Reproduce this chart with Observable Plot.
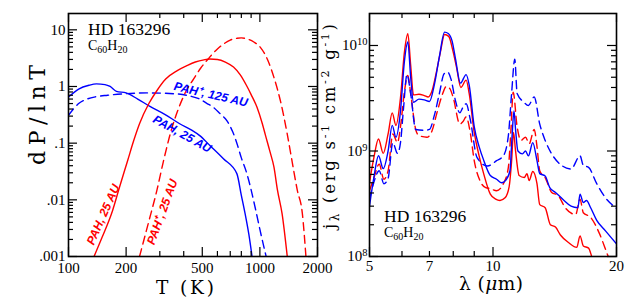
<!DOCTYPE html>
<html>
<head>
<meta charset="utf-8">
<script src="https://cdn.jsdelivr.net/npm/d3@7"></script>
<script src="https://cdn.jsdelivr.net/npm/@observablehq/plot@0.6"></script>
<style>
html,body{margin:0;padding:0;background:#fff;}
#chart{position:relative;width:625px;height:307px;overflow:hidden;background:#fff;}
#chart svg{position:absolute;left:0;top:0;}
</style>
</head>
<body>
<div id="chart"></div>
<script>
// ---------------- Left panel: temperature distributions dP/dlnT ----------------
// blue solid  (PAH, 25 AU)
const T_blueSolid = [100, 113, 128, 140, 155, 165, 178, 200, 230, 265, 320, 381, 440, 485, 548, 645, 758, 800, 837, 875, 910];
const P_blueSolid = [0.65, 0.9, 1.05, 1.11, 1.08, 1.0, 0.82, 0.77, 0.6, 0.45, 0.32, 0.22, 0.17, 0.136, 0.091, 0.053, 0.029, 0.012, 0.0057, 0.0025, 0.001];
// blue dashed (PAH+, 125 AU)
const T_blueDash = [100, 113, 125, 139, 160, 192, 265, 366, 430, 485, 530, 571, 620, 672, 720, 758, 800, 855, 900, 944, 1000, 1078];
const P_blueDash = [0.31, 0.5, 0.6, 0.66, 0.7, 0.74, 0.77, 0.74, 0.68, 0.6, 0.5, 0.43, 0.33, 0.25, 0.16, 0.1, 0.055, 0.029, 0.015, 0.0074, 0.003, 0.001];
// red solid (PAH, 25 AU)
const T_redSolid = [136, 150, 170, 185, 204, 219, 235, 263, 290, 322, 370, 413, 460, 510, 548, 600, 660, 728, 790, 850, 900, 966, 1030, 1068, 1130, 1184, 1235, 1306, 1390];
const P_redSolid = [0.001, 0.0022, 0.0065, 0.017, 0.05, 0.11, 0.22, 0.5, 0.85, 1.35, 1.9, 2.3, 2.7, 2.95, 3.05, 3.0, 2.7, 2.2, 1.6, 1.05, 0.72, 0.43, 0.22, 0.14, 0.07, 0.038, 0.015, 0.0057, 0.001];
// red dashed (PAH+, 25 AU)
const T_redDash = [235, 262, 290, 312, 344, 380, 413, 450, 490, 537, 600, 650, 700, 760, 800, 860, 930, 1006, 1100, 1184, 1290, 1387, 1450, 1509, 1567, 1667, 1740];
const P_redDash = [0.001, 0.004, 0.015, 0.045, 0.167, 0.45, 0.85, 1.35, 2.1, 3.06, 4.6, 5.7, 6.6, 7.1, 7.2, 6.9, 6.1, 4.9, 2.9, 1.45, 0.5, 0.15, 0.065, 0.03, 0.015, 0.0057, 0.001];

const leftXTicks = [100, 200, 500, 1000, 2000];
const leftXMinor = [300, 400, 600, 700, 800, 900];
const leftYTicks = [0.001, 0.01, 0.1, 1, 10];
const leftYTickLabels = [".001", ".01", ".1", "1", "10"];

const curveLabels = ["PAH\u207A, 125 AU", "PAH, 25 AU", "PAH, 25 AU", "PAH\u207A, 25 AU"];
const curveLabelT = [554, 393, 152, 309];
const curveLabelP = [0.72, 0.145, 0.0055, 0.0061];
const curveLabelAngle = [13, 29, -66, -70];
const curveLabelColor = ["blue", "blue", "red", "red"];

// ---------------- Right panel: emission spectra j_lambda ----------------
const lam_redSolid = [5.0, 5.12, 5.26, 5.4, 5.55, 5.68, 5.8, 5.95, 6.08, 6.2, 6.3, 6.4, 6.6, 6.8, 6.95, 7.1, 7.25, 7.45, 7.62, 7.8, 7.98, 8.15, 8.35, 8.6, 8.75, 9.0, 9.25, 9.5, 9.85, 10.15, 10.4, 10.7, 10.95, 11.1, 11.22, 11.35, 11.58, 11.92, 12.1, 12.25, 12.5, 12.8, 13.0, 13.4, 13.8, 14.2, 14.6, 15.3, 16.0, 16.3, 16.6, 17.1, 17.4, 17.7];
const j_redSolid = [5.0e8, 8.5e8, 1.3e9, 9.5e8, 1.45e9, 2.3e9, 1.75e9, 3.2e9, 8.5e9, 1.29e10, 6.5e9, 3.4e9, 3.45e9, 3.35e9, 3.25e9, 3.7e9, 5.2e9, 8.8e9, 1.27e10, 1.22e10, 9e9, 6.2e9, 4.0e9, 4.7e9, 3.5e9, 1.5e9, 9e8, 6e8, 3.9e8, 3.5e8, 3.4e8, 3.6e8, 4.6e8, 8e8, 1.5e9, 1.0e9, 5.85e8, 5.6e8, 6.1e8, 5.25e8, 6.4e8, 4.9e8, 3.1e8, 2.9e8, 2.0e8, 1.9e8, 1.6e8, 1.35e8, 1.22e8, 1.57e8, 1.26e8, 1.2e8, 1.0e8, 8e7];

const lam_blueSolid = [5.0, 5.12, 5.26, 5.4, 5.55, 5.68, 5.8, 5.95, 6.08, 6.2, 6.3, 6.4, 6.6, 6.8, 7.0, 7.2, 7.4, 7.62, 7.78, 7.95, 8.1, 8.33, 8.6, 8.75, 9.0, 9.25, 9.5, 9.85, 10.2, 10.5, 10.75, 11.0, 11.12, 11.25, 11.35, 11.5, 11.8, 12.0, 12.2, 12.5, 12.8, 13.0, 13.4, 13.75, 14.2, 14.9, 15.5, 16.1, 16.3, 16.6, 16.9, 17.3, 17.9, 18.8, 19.9, 20.0];
const j_blueSolid = [3.0e8, 5.5e8, 9e8, 6.8e8, 1.0e9, 1.75e9, 1.35e9, 2.4e9, 7e9, 1.08e10, 5e9, 2.9e9, 3.1e9, 3.05e9, 2.95e9, 4.3e9, 7.8e9, 1.34e10, 1.3e10, 1.1e10, 7.5e9, 4.4e9, 5.3e9, 4.2e9, 1.7e9, 1.1e9, 8.1e8, 5.85e8, 5.4e8, 5.0e8, 5.3e8, 6.5e8, 1.3e9, 2.4e9, 1.6e9, 1.0e9, 9.4e8, 1.0e9, 9e8, 1.2e9, 8.1e8, 6.1e8, 5.8e8, 4.5e8, 4.05e8, 3.4e8, 3.0e8, 2.9e8, 3.9e8, 3.25e8, 3.4e8, 2.9e8, 2.2e8, 1.75e8, 1.35e8, 1.32e8];

const lam_redDash = [5.0, 5.12, 5.28, 5.42, 5.55, 5.7, 5.85, 5.95, 6.08, 6.2, 6.3, 6.48, 6.6, 6.9, 7.1, 7.3, 7.5, 7.7, 7.85, 8.0, 8.3, 8.45, 8.6, 8.8, 9.0, 9.3, 9.6, 9.85, 10.2, 10.6, 10.9, 11.05, 11.2, 11.45, 11.7, 12.0, 12.25, 12.6, 12.8, 13.0, 13.4, 13.9, 14.4, 15.0, 15.9, 16.3, 16.6, 17.3, 18.2, 19.0, 19.3];
const j_redDash = [4.2e8, 5.5e8, 7.5e8, 5.4e8, 6.5e8, 1.45e9, 1.2e9, 1.7e9, 3.6e9, 5.2e9, 3.5e9, 1.6e9, 1.4e9, 1.35e9, 1.55e9, 2.3e9, 3.3e9, 4.1e9, 3.9e9, 3.2e9, 1.8e9, 1.9e9, 2.1e9, 1.5e9, 8.1e8, 5.2e8, 4.5e8, 4.4e8, 4.2e8, 4.9e8, 7e8, 1.5e9, 3.6e9, 1.7e9, 1.26e9, 1.35e9, 1.17e9, 1.6e9, 1.1e9, 6.5e8, 5.6e8, 4.05e8, 3.8e8, 2.9e8, 2.5e8, 3.5e8, 2.6e8, 2.35e8, 1.63e8, 1.05e8, 9e7];

const lam_blueDash = [5.0, 5.12, 5.28, 5.42, 5.55, 5.7, 5.85, 5.95, 6.05, 6.17, 6.3, 6.48, 6.8, 7.0, 7.2, 7.4, 7.6, 7.75, 7.9, 8.1, 8.3, 8.45, 8.6, 8.8, 9.14, 9.7, 10.2, 10.6, 10.9, 11.1, 11.3, 11.45, 11.9, 12.2, 12.6, 13.0, 13.4, 13.9, 14.7, 15.5, 16.3, 16.6, 17.1, 17.9, 18.8, 19.9, 20.0];
const j_blueDash = [3.5e8, 5e8, 6.5e8, 4.9e8, 5.5e8, 1.2e9, 9.5e8, 1.2e9, 2.5e9, 5.3e9, 3.5e9, 1.6e9, 1.57e9, 1.6e9, 2.2e9, 3.5e9, 5.4e9, 5.6e9, 4.8e9, 3.0e9, 2.3e9, 2.6e9, 2.8e9, 2.0e9, 8.7e8, 7.2e8, 8.1e8, 9e8, 1.4e9, 3.5e9, 7.4e9, 3.5e9, 2.9e9, 2.7e9, 3.25e9, 1.8e9, 1.26e9, 9.4e8, 7.3e8, 6.75e8, 9e8, 7.3e8, 7e8, 4.9e8, 3.6e8, 2.9e8, 2.85e8];

const rightXTicks = [5, 7, 10, 20];
const rightXMajor = [5, 10, 20];
const rightXMinor = [6, 7, 8, 9];
const rightYTicks = [1e8, 1e9, 1e10];

const annotation = "HD 163296";

// ---------------- helpers ----------------
const W = 625, H = 307;
const FRAME_T = 13, FRAME_B = 256;
const innerH = FRAME_B - FRAME_T;
const RED = "#ff0000", BLUE = "#0000ff";
const DASH = "8,5";
const TITLE_FONT = "'DejaVu Serif', serif";

const zip = (xs, ys) => xs.map((x, i) => ({x, y: ys[i]}));
function decadeMinors(lo, hi) {
  const out = [];
  for (let e = Math.floor(Math.log10(lo)); e <= Math.ceil(Math.log10(hi)); e++) {
    for (let m = 2; m <= 9; m++) {
      const v = m * Math.pow(10, e);
      if (v > lo && v < hi) out.push(v);
    }
  }
  return out;
}
function frameTicks(xMaj, xMin, yMaj, yMin, innerW) {
  const LM = 9, Lm = 5, sw = 1.2;
  return [
    Plot.tickX(xMaj, {x: d => d, insetTop: innerH - LM, strokeWidth: sw}),
    Plot.tickX(xMaj, {x: d => d, insetBottom: innerH - LM, strokeWidth: sw}),
    Plot.tickX(xMin, {x: d => d, insetTop: innerH - Lm, strokeWidth: sw}),
    Plot.tickX(xMin, {x: d => d, insetBottom: innerH - Lm, strokeWidth: sw}),
    Plot.tickY(yMaj, {y: d => d, insetRight: innerW - LM, strokeWidth: sw}),
    Plot.tickY(yMaj, {y: d => d, insetLeft: innerW - LM, strokeWidth: sw}),
    Plot.tickY(yMin, {y: d => d, insetRight: innerW - Lm, strokeWidth: sw}),
    Plot.tickY(yMin, {y: d => d, insetLeft: innerW - Lm, strokeWidth: sw})
  ];
}
const baseStyle = {background: "transparent", fontFamily: "'Liberation Serif', serif", fontSize: "15px", color: "black", overflow: "visible"};

// ---------------- left plot ----------------
const L_LEFT = 68, L_RIGHT = 317;
const leftYDomain = [0.001, 19.4];
const leftLabelData = curveLabels.map((t, i) => ({t, T: curveLabelT[i], P: curveLabelP[i], r: curveLabelAngle[i], c: curveLabelColor[i] === "blue" ? BLUE : RED}));

const leftPlot = Plot.plot({
  width: W, height: H,
  marginLeft: L_LEFT, marginRight: W - L_RIGHT, marginTop: FRAME_T, marginBottom: H - FRAME_B,
  x: {type: "log", domain: [100, 2000]},
  y: {type: "log", domain: leftYDomain},
  color: {type: "identity"},
  style: baseStyle,
  marks: [
    Plot.line(zip(T_blueSolid, P_blueSolid), {x: "x", y: "y", stroke: BLUE, strokeWidth: 1.4, curve: "monotone-x", clip: true}),
    Plot.line(zip(T_blueDash, P_blueDash), {x: "x", y: "y", stroke: BLUE, strokeWidth: 1.4, strokeDasharray: DASH, curve: "monotone-x", clip: true}),
    Plot.line(zip(T_redSolid, P_redSolid), {x: "x", y: "y", stroke: RED, strokeWidth: 1.4, curve: "monotone-x", clip: true}),
    Plot.line(zip(T_redDash, P_redDash), {x: "x", y: "y", stroke: RED, strokeWidth: 1.4, strokeDasharray: DASH, curve: "monotone-x", clip: true}),
    Plot.text(leftLabelData, {x: "T", y: "P", text: "t", rotate: "r", fill: "c", fontSize: 12, fontWeight: "bold", fontStyle: "italic", fontFamily: "'Liberation Sans', Arial, sans-serif", textAnchor: "middle", lineAnchor: "middle"}),
    ...frameTicks(leftXTicks, leftXMinor, leftYTicks, decadeMinors(leftYDomain[0], leftYDomain[1]), L_RIGHT - L_LEFT),
    Plot.frame({strokeWidth: 1.6}),
    Plot.axisX({ticks: leftXTicks, tickSize: 0, tickPadding: 6, tickFormat: d => String(d), label: null}),
    Plot.axisY({ticks: leftYTicks, tickSize: 0, tickPadding: 3, tickFormat: d => leftYTickLabels[leftYTicks.indexOf(d)], label: null})
  ]
});

// ---------------- right plot ----------------
const R_LEFT = 369, R_RIGHT = 616;
const rightYDomain = [1e8, 2.01e10];
const rightPlot = Plot.plot({
  width: W, height: H,
  marginLeft: R_LEFT, marginRight: W - R_RIGHT, marginTop: FRAME_T, marginBottom: H - FRAME_B,
  x: {type: "log", domain: [5, 20]},
  y: {type: "log", domain: rightYDomain},
  style: baseStyle,
  marks: [
    Plot.line(zip(lam_redDash, j_redDash), {x: "x", y: "y", stroke: RED, strokeWidth: 1.4, strokeDasharray: DASH, curve: "monotone-x", clip: true}),
    Plot.line(zip(lam_blueDash, j_blueDash), {x: "x", y: "y", stroke: BLUE, strokeWidth: 1.4, strokeDasharray: DASH, curve: "monotone-x", clip: true}),
    Plot.line(zip(lam_redSolid, j_redSolid), {x: "x", y: "y", stroke: RED, strokeWidth: 1.4, curve: "monotone-x", clip: true}),
    Plot.line(zip(lam_blueSolid, j_blueSolid), {x: "x", y: "y", stroke: BLUE, strokeWidth: 1.4, curve: "monotone-x", clip: true}),
    ...frameTicks(rightXMajor, rightXMinor, rightYTicks, decadeMinors(rightYDomain[0], rightYDomain[1]).filter(v => v < 1.9e10), R_RIGHT - R_LEFT),
    Plot.frame({strokeWidth: 1.6}),
    Plot.axisX({ticks: rightXTicks, tickSize: 0, tickPadding: 4, tickFormat: d => String(d), label: null}),
    Plot.axisY({ticks: rightYTicks, tickSize: 0, tickPadding: 2, tickFormat: d => "10^" + Math.round(Math.log10(d)), label: null})
  ]
});

const chart = document.getElementById("chart");
chart.appendChild(leftPlot);
chart.appendChild(rightPlot);

// superscripts on right y tick labels
d3.select(rightPlot).selectAll("text").each(function() {
  const m = /^10\^(\d+)$/.exec(this.textContent);
  if (m) {
    const t = d3.select(this);
    t.text("10");
    t.append("tspan").attr("dy", "-0.5em").attr("font-size", "10.5px").text(m[1]);
  }
});

// ---------------- text annotations ----------------
const ls = d3.select(leftPlot), rs = d3.select(rightPlot);
function addHD(svg, x, y) {
  svg.append("text").attr("x", x).attr("y", y).attr("text-anchor", "start").attr("font-size", 17.5).attr("fill", "black").text(annotation);
}
function addFormula(svg, x, y) {
  const t = svg.append("text").attr("x", x).attr("y", y).attr("text-anchor", "start").attr("font-size", 14).attr("fill", "black");
  t.append("tspan").text("C");
  t.append("tspan").attr("dy", 3).attr("font-size", 10).text("60");
  t.append("tspan").attr("dy", -3).text("H");
  t.append("tspan").attr("dy", 3).attr("font-size", 10).text("20");
}
addHD(ls, 88, 35);
addFormula(ls, 88, 49.5);
addHD(rs, 384, 222);
addFormula(rs, 384, 237);

// axis titles
ls.append("text").attr("transform", "translate(45,115) rotate(-90)").attr("text-anchor", "middle")
  .attr("font-family", TITLE_FONT).attr("font-size", 22).attr("textLength", 100).attr("lengthAdjust", "spacing").text("dP/lnT");
ls.append("text").attr("x", 185).attr("y", 294).attr("text-anchor", "middle")
  .attr("font-family", TITLE_FONT).attr("font-size", 18.5).attr("textLength", 58).attr("lengthAdjust", "spacing").text("T (K)");
{
  const t = rs.append("text").attr("x", 491).attr("y", 290).attr("text-anchor", "middle")
    .attr("font-family", TITLE_FONT).attr("font-size", 18.5).attr("textLength", 64).attr("lengthAdjust", "spacing");
  t.append("tspan").text("\u03BB (");
  t.append("tspan").attr("font-style", "italic").text("\u03BC");
  t.append("tspan").text("m)");
}
{
  const t = rs.append("text").attr("transform", "translate(335,126.5) rotate(-90)").attr("text-anchor", "middle")
    .attr("font-family", TITLE_FONT).attr("font-size", 16.5).attr("textLength", 205).attr("lengthAdjust", "spacing");
  t.append("tspan").text("j");
  t.append("tspan").attr("dy", 4).attr("font-size", 12).text("\u03BB");
  t.append("tspan").attr("dy", -4).text(" (erg s");
  t.append("tspan").attr("dy", -6).attr("font-size", 11).text("-1");
  t.append("tspan").attr("dy", 6).text(" cm");
  t.append("tspan").attr("dy", -6).attr("font-size", 11).text("-2");
  t.append("tspan").attr("dy", 6).text(" g");
  t.append("tspan").attr("dy", -6).attr("font-size", 11).text("-1");
  t.append("tspan").attr("dy", 6).text(")");
}
</script>
</body>
</html>
